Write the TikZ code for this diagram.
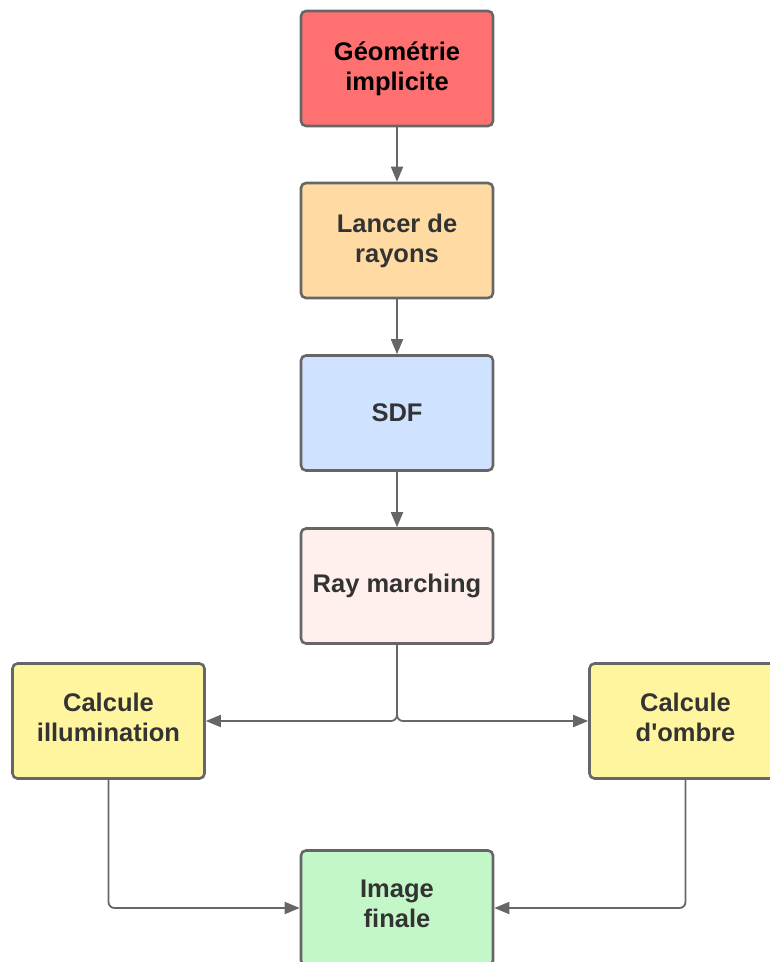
\documentclass[tikz,border=0pt]{standalone}
\usepackage{fontspec}
\setmainfont{Liberation Sans}[Ligatures=TeXOff]
\usetikzlibrary{arrows.meta}
\definecolor{edge}{HTML}{666666}
\definecolor{ink}{HTML}{333333}
\definecolor{cRed}{HTML}{FF7070}
\definecolor{cOrange}{HTML}{FFDBA3}
\definecolor{cBlue}{HTML}{CFE2FF}
\definecolor{cPink}{HTML}{FFF0EE}
\definecolor{cYellow}{HTML}{FFF59F}
\definecolor{cGreen}{HTML}{C3F7C8}
\tikzset{
  stepbox/.style={draw=edge, line width=2.6pt, rounded corners=5pt,
    minimum width=192pt, minimum height=115pt, align=center,
    font=\fontsize{25.5}{30}\selectfont\bfseries, text=ink},
  lifted/.style={text depth=8pt},
  flow/.style={draw=edge, line width=1.8pt, rounded corners=6pt,
    -{Triangle[length=15pt,width=12pt]}}
}
\begin{document}
\begin{tikzpicture}[x=1pt,y=-1pt]
\useasboundingbox (0,0) rectangle (770,962);
\begin{scope}
\clip (0,0) rectangle (770,962);
\node[stepbox, fill=cRed, text=black] (geo) at (397,68.5) {Géométrie\\implicite};
\node[stepbox, fill=cOrange] (ray) at (397,240.5) {Lancer de\\rayons};
\node[stepbox, fill=cBlue] (sdf) at (397,413) {SDF};
\node[stepbox, fill=cPink] (march) at (397,586) {Ray marching};
\node[stepbox, lifted, fill=cYellow] (illum) at (108.5,721) {Calcule\\illumination};
\node[stepbox, lifted, fill=cYellow] (ombre) at (685.5,721) {Calcule\\d'ombre};
\node[stepbox, lifted, fill=cGreen] (final) at (397,908) {Image\\finale};

\draw[flow] (geo) -- (ray);
\draw[flow] (ray) -- (sdf);
\draw[flow] (sdf) -- (march);
\draw[flow] (march.south) |- (illum.east);
\draw[flow] (march.south) |- (ombre.west);
\draw[flow] (illum.south) |- (final.west);
\draw[flow] (ombre.south) |- (final.east);
\end{scope}
\end{tikzpicture}
\end{document}
